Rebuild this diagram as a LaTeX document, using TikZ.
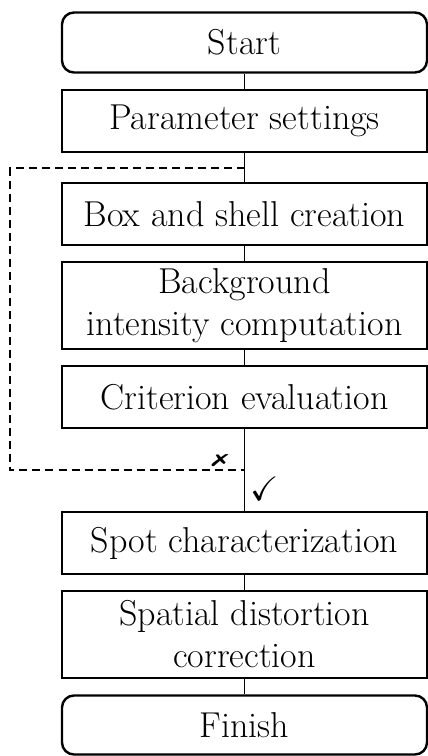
\documentclass[tikz,border=0pt]{standalone}
\usepackage{amssymb}
\usepackage{pifont}
\usepackage{graphicx}
\usepackage{fontspec}
\begin{document}
\begin{tikzpicture}[x=1pt,y=-1pt,
  stepbox/.style={draw,line width=1.3pt,minimum width=365pt,inner sep=0pt,align=center,
    font=\fontsize{36}{42}\selectfont},
  termbox/.style={stepbox,rounded corners=12pt,line width=2.4pt},
  link/.style={line width=1.3pt},
  loopline/.style={line width=1.5pt,dash pattern=on 8pt off 5pt}]
\useasboundingbox (0,0) rectangle (428,756);
\node[termbox,minimum height=60pt] (start) at (244.5,42.5) {Start};
\node[stepbox,minimum height=62pt] (param) at (244.5,121) {Parameter settings};
\node[stepbox,minimum height=62pt] (box) at (244.5,214) {Box and shell creation};
\node[stepbox,minimum height=87pt] (bg) at (244.5,305.5) {Background\\intensity computation};
\node[stepbox,minimum height=62pt] (crit) at (244.5,397) {Criterion evaluation};
\node[stepbox,minimum height=62pt] (spot) at (244.5,543) {Spot characterization};
\node[stepbox,minimum height=87pt] (spat) at (244.5,634.5) {Spatial distortion\\correction};
\node[termbox,minimum height=59pt] (fin) at (244.5,725) {Finish};
\draw[link] (start) -- (param);
\draw[link] (param) -- (box);
\draw[link] (box) -- (bg);
\draw[link] (bg) -- (crit);
\draw[link] (crit) -- (spot);
\draw[link] (spot) -- (spat);
\draw[link] (spat) -- (fin);
\coordinate (j1) at (244.5,168);
\coordinate (j2) at (244.5,470);
\coordinate (c1) at (10,168);
\draw[loopline] (j1) -- (c1) |- (j2);
\node[font=\fontsize{21}{21}\selectfont] (no) at (220,461) {\scalebox{1.4}[0.8]{\ding{55}}};
\node[font=\fontsize{34}{34}\selectfont] (yes) at (265,489) {$\checkmark$};
\end{tikzpicture}
\end{document}
